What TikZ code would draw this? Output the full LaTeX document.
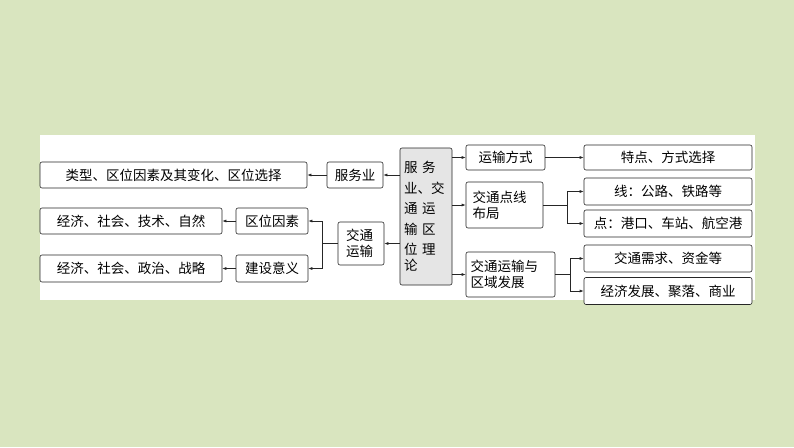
\documentclass[tikz,border=0pt]{standalone}
\usepackage{fontspec}
\setmainfont{Noto Sans CJK SC}
\usetikzlibrary{arrows.meta}
\begin{document}
\begin{tikzpicture}[x=1pt,y=-1pt,
 bx/.style={draw=black!85,rounded corners=2pt,line width=0.6pt,fill=white,font=\fontsize{13.5}{16}\selectfont,inner sep=0pt},
 ar/.style={-{Latex[length=4pt,width=3pt]},line width=0.6pt,black!85}]
\useasboundingbox (0,0) rectangle (794,447);
\fill[green!20!olive!25!white] (0,0) rectangle (794,447);
\fill[white] (40,135) rectangle (755,300);
\node[bx,minimum width=267,minimum height=26] (a1) at (173.5,175) {类型、区位因素及其变化、区位选择};
\node[bx,minimum width=56,minimum height=26] (a2) at (355,175) {服务业};
\node[bx,minimum width=52,minimum height=137,fill=black!10,align=left,text width=44] (c) at (426,216.5) {\baselineskip=20.5pt 服\,\,务\\业、交\\通\,\,运\\输\,\,区\\位\,\,理\\论};
\node[bx,minimum width=79,minimum height=25] (r1) at (505.5,157.5) {运输方式};
\node[bx,minimum width=77,minimum height=46,align=left,text width=64] (r2) at (504.5,205) {\baselineskip=20pt 交通点线\\布局};
\node[bx,minimum width=89,minimum height=45,align=left,text width=80] (r3) at (510.5,274.5) {\baselineskip=20pt 交通运输与\\区域发展};
\node[bx,minimum width=168,minimum height=25] (s1) at (668,157.5) {特点、方式选择};
\node[bx,minimum width=168,minimum height=27] (s2) at (668,191.5) {线：公路、铁路等};
\node[bx,minimum width=168,minimum height=27] (s3) at (668,223.5) {点：港口、车站、航空港};
\node[bx,minimum width=168,minimum height=27] (s4) at (668,258.5) {交通需求、资金等};
\node[bx,minimum width=168,minimum height=27] (s5) at (668,291) {经济发展、聚落、商业};
\node[bx,minimum width=182,minimum height=26] (l1) at (131,221) {经济、社会、技术、自然};
\node[bx,minimum width=72,minimum height=26] (l2) at (272,221) {区位因素};
\node[bx,minimum width=182,minimum height=27] (l3) at (131,268.5) {经济、社会、政治、战略};
\node[bx,minimum width=72,minimum height=27] (l4) at (272,268.5) {建设意义};
\node[bx,minimum width=46,minimum height=43,align=left,text width=30] (t) at (361,243.5) {\baselineskip=20pt 交通\\运输};
\draw[ar] (c.west|-a2) -- (a2);
\draw[ar] (a2) -- (a1);
\draw[ar] (c.west|-t) -- (t);
\draw[ar] (t.west) -- (322,243.5) |- (l2);
\draw[ar] (322,243.5) |- (l4);
\draw[ar] (l2) -- (l1);
\draw[ar] (l4) -- (l3);
\draw[ar] (c.east|-r1) -- (r1);
\draw[ar] (c.east|-r2) -- (r2);
\draw[ar] (c.east|-r3) -- (r3);
\draw[ar] (r1) -- (s1);
\draw[ar] (r2.east) -- (567,205) |- (s2);
\draw[ar] (567,205) |- (s3);
\draw[ar] (r3.east) -- (570,274.5) |- (s4);
\draw[ar] (570,274.5) |- (s5);
\end{tikzpicture}
\end{document}
